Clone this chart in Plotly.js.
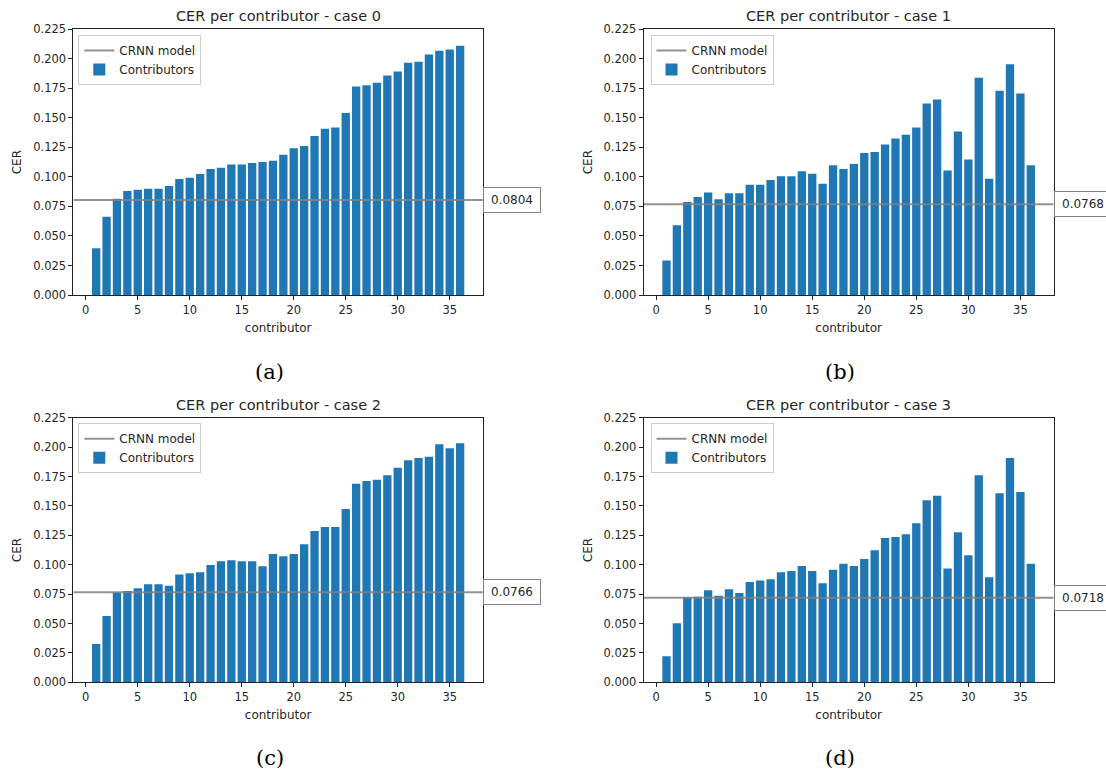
<!DOCTYPE html>
<html>
<head>
<meta charset="utf-8">
<script src="https://cdn.plot.ly/plotly-3.0.1.min.js"></script>
<style>html,body{margin:0;padding:0;background:#fff;}#chart{width:1106px;height:771px;}</style>
</head>
<body>
<div id="chart"></div>
<script>
// ---- data ----
const contributors = [1,2,3,4,5,6,7,8,9,10,11,12,13,14,15,16,17,18,19,20,21,22,23,24,25,26,27,28,29,30,31,32,33,34,35,36];
const case0 = [0.0395,0.0663,0.0815,0.0880,0.0892,0.0900,0.0900,0.0923,0.0982,0.0993,0.1024,0.1067,0.1078,0.1106,0.1106,0.1117,0.1126,0.1137,0.1188,0.1242,0.1261,0.1346,0.1408,0.1419,0.1541,0.1766,0.1777,0.1797,0.1859,0.1893,0.1967,0.1975,0.2037,0.2068,0.2079,0.2111];
const case1 = [0.0293,0.0590,0.0787,0.0830,0.0869,0.0810,0.0861,0.0861,0.0934,0.0934,0.0973,0.1005,0.1005,0.1047,0.1027,0.0942,0.1098,0.1067,0.1109,0.1202,0.1210,0.1275,0.1326,0.1357,0.1419,0.1622,0.1656,0.1055,0.1385,0.1148,0.1840,0.0985,0.1730,0.1955,0.1707,0.1098];
const case2 = [0.0326,0.0564,0.0765,0.0777,0.0799,0.0833,0.0833,0.0822,0.0916,0.0927,0.0935,0.0998,0.1029,0.1037,0.1029,0.1029,0.0986,0.1091,0.1071,0.1091,0.1173,0.1287,0.1321,0.1321,0.1474,0.1689,0.1712,0.1723,0.1760,0.1825,0.1888,0.1907,0.1919,0.2024,0.1990,0.2032];
const case3 = [0.0221,0.0502,0.0726,0.0728,0.0782,0.0737,0.0791,0.0760,0.0853,0.0865,0.0876,0.0935,0.0947,0.0989,0.0947,0.0842,0.0958,0.1009,0.0989,0.1049,0.1122,0.1227,0.1236,0.1259,0.1352,0.1548,0.1587,0.0967,0.1276,0.1080,0.1760,0.0893,0.1607,0.1907,0.1618,0.1009];
const crnnModel = [0.0804, 0.0768, 0.0766, 0.0718];
const caseNames = ['case 0', 'case 1', 'case 2', 'case 3'];
const captions = ['(a)', '(b)', '(c)', '(d)'];
const xTickVals = [0,5,10,15,20,25,30,35];
const yTickVals = [0,0.025,0.05,0.075,0.1,0.125,0.15,0.175,0.2,0.225];

// ---- layout constants ----
const W = 1106, H = 771;
const xRange = [-1.19, 38.19];
const yRange = [0, 0.225];
const xDomains = [[73.4/W, 482.9/W], [643.7/W, 1053.6/W]];
const yDomains = [[1-295/H, 1-29.3/H], [1-682.3/H, 1-417.7/H]];
const legendPos = [[78.3/W, 1-35/H], [650.5/W, 1-35/H], [78.3/W, 1-423.3/H], [650.5/W, 1-423.3/H]];
const captionPos = [[269/W, 1-372/H], [840/W, 1-372/H], [270/W, 1-758/H], [840/W, 1-758/H]];
const BLUE = '#1f77b4';
const TXT = '#262626';

const series = [case0, case1, case2, case3];
const traces = [];
const annotations = [];
const layout = {
  width: W, height: H,
  margin: {l: 0, r: 0, t: 0, b: 0},
  paper_bgcolor: '#ffffff', plot_bgcolor: '#ffffff',
  font: {family: 'DejaVu Sans', size: 11, color: TXT},
  bargap: 0.2,
  showlegend: true,
  annotations: annotations
};

series.forEach((vals, i) => {
  const n = i + 1;
  const xa = 'x' + (n === 1 ? '' : n);
  const ya = 'y' + (n === 1 ? '' : n);
  const lg = 'legend' + (n === 1 ? '' : n);
  const col = i % 2, row = Math.floor(i / 2);

  traces.push({
    type: 'scatter', mode: 'lines',
    x: xRange, y: [crnnModel[i], crnnModel[i]],
    xaxis: xa, yaxis: ya, legend: lg,
    name: 'CRNN model',
    line: {color: 'rgba(128,128,128,0.85)', width: 2},
    hoverinfo: 'skip'
  });
  traces.push({
    type: 'bar', x: contributors, y: vals,
    xaxis: xa, yaxis: ya, legend: lg,
    name: 'Contributors',
    marker: {color: BLUE, line: {width: 0}}
  });

  layout['xaxis' + (n === 1 ? '' : n)] = {
    domain: xDomains[col], anchor: ya, range: xRange,
    tickmode: 'array', tickvals: xTickVals,
    ticks: 'outside', ticklen: 4, tickwidth: 1, tickcolor: '#222',
    showline: true, linecolor: '#222', linewidth: 1, mirror: true,
    showgrid: false, zeroline: false,
    tickfont: {size: 11.5, color: TXT},
    title: {text: 'contributor', font: {size: 12, color: TXT}, standoff: 7}
  };
  layout['yaxis' + (n === 1 ? '' : n)] = {
    domain: yDomains[row], anchor: xa, range: yRange,
    tickmode: 'array', tickvals: yTickVals, tickformat: '.3f',
    ticks: 'outside', ticklen: 4, tickwidth: 1, tickcolor: '#222',
    showline: true, linecolor: '#222', linewidth: 1, mirror: true,
    showgrid: false, zeroline: false,
    tickfont: {size: 11.5, color: TXT},
    title: {text: 'CER', font: {size: 12, color: TXT}, standoff: 8}
  };
  layout[lg] = {
    x: legendPos[i][0], y: legendPos[i][1], xanchor: 'left', yanchor: 'top',
    xref: 'paper', yref: 'paper',
    bgcolor: 'rgba(255,255,255,0.8)', bordercolor: '#cccccc', borderwidth: 1,
    font: {size: 12, color: TXT}, traceorder: 'normal'
  };

  // subplot title
  annotations.push({
    text: 'CER per contributor - ' + caseNames[i],
    xref: xa + ' domain', yref: ya + ' domain', x: 0.5, y: 1,
    xanchor: 'center', yanchor: 'bottom', yshift: 3, showarrow: false,
    font: {size: 14.5, color: TXT}
  });
  // model value box
  annotations.push({
    text: crnnModel[i].toFixed(4),
    xref: xa + ' domain', yref: ya, x: 1, y: crnnModel[i],
    xanchor: 'left', yanchor: 'middle', xshift: 0, showarrow: false,
    bgcolor: '#ffffff', bordercolor: '#808080', borderwidth: 1, borderpad: 3,
    width: 50, height: 18,
    font: {size: 12, color: TXT}
  });
  // caption
  annotations.push({
    text: captions[i], xref: 'paper', yref: 'paper',
    x: captionPos[i][0], y: captionPos[i][1], xanchor: 'center', yanchor: 'middle',
    showarrow: false, font: {family: 'DejaVu Serif', size: 21, color: '#000'}
  });
});

Plotly.newPlot('chart', traces, layout, {staticPlot: true, displayModeBar: false});
</script>
</body>
</html>
